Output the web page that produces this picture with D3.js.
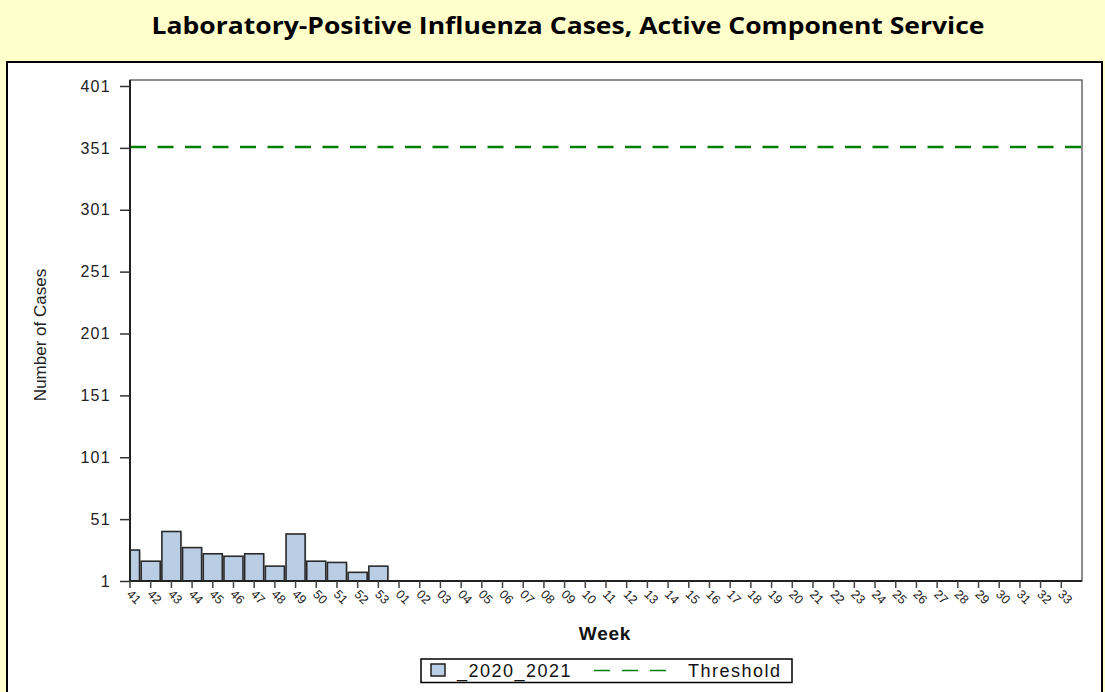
<!DOCTYPE html>
<html>
<head>
<meta charset="utf-8">
<script src="https://cdn.jsdelivr.net/npm/d3@7"></script>
<style>
html,body{margin:0;padding:0;background:#FFFFCC;}
svg{display:block;}
</style>
</head>
<body>
<svg id="chart" width="1105" height="692"></svg>
<script>
const weeks = ["41","42","43","44","45","46","47","48","49","50","51","52","53",
  "01","02","03","04","05","06","07","08","09","10","11","12","13","14","15","16",
  "17","18","19","20","21","22","23","24","25","26","27","28","29","30","31","32","33"];
const cases2020_2021 = [26,17,41,28,23,21,23,13,39,17,16,8,13];
const threshold = 351;
const yTicks = [1,51,101,151,201,251,301,351,401];
const titleText = "Laboratory-Positive Influenza Cases, Active Component Service";
const seriesName = "_2020_2021";
const thresholdName = "Threshold";

(function(){
const svg = d3.select("#chart");
const W = 1105, H = 692;
svg.append("rect").attr("width", W).attr("height", H).attr("fill", "#FFFFCC");

svg.append("text").attr("x", 568).attr("y", 34)
  .attr("text-anchor", "middle")
  .attr("font-family", "'Open Sans', Lato, sans-serif")
  .attr("font-weight", "bold").attr("font-size", 24)
  .attr("textLength", 833).attr("lengthAdjust", "spacingAndGlyphs")
  .attr("fill", "#000").text(titleText);

// white frame
svg.append("rect").attr("x", 7).attr("y", 62).attr("width", 1095).attr("height", 660)
  .attr("fill", "#fff").attr("stroke", "#000").attr("stroke-width", 2);

const pL = 130, pR = 1082, pT = 80, pB = 581;
const n = weeks.length;
const step = (pR - pL) / n;
const x = d3.scaleBand().domain(weeks)
  .range([pL - step / 2, pL - step / 2 + n * step])
  .paddingInner(0.08).paddingOuter(0.04);
const y = d3.scaleLinear().domain([1, 401]).range([pB, 86]);

svg.append("defs").append("clipPath").attr("id", "plotclip")
  .append("rect").attr("x", pL).attr("y", pT).attr("width", pR - pL).attr("height", pB - pT);

// plot frame
svg.append("rect").attr("x", pL).attr("y", pT).attr("width", pR - pL).attr("height", pB - pT)
  .attr("fill", "#fff").attr("stroke", "#444").attr("stroke-width", 1.2);

// bars
const barData = cases2020_2021.map((v, i) => ({week: weeks[i], v}));
const gBars = svg.append("g").attr("clip-path", "url(#plotclip)");
gBars.selectAll("rect.shadow").data(barData).enter().append("rect")
  .attr("class", "shadow")
  .attr("x", d => x(d.week) + 1.5).attr("y", d => y(d.v) + 1.5)
  .attr("width", x.bandwidth()).attr("height", d => y(1) - y(d.v))
  .attr("fill", "#c8c8c8").attr("opacity", 0.6);
gBars.selectAll("rect.bar").data(barData).enter().append("rect")
  .attr("class", "bar")
  .attr("x", d => x(d.week)).attr("y", d => y(d.v))
  .attr("width", x.bandwidth()).attr("height", d => y(1) - y(d.v))
  .attr("fill", "#B9CDE5").attr("stroke", "#2a2a2a").attr("stroke-width", 1.6);

// threshold
svg.append("line").attr("x1", pL).attr("x2", pR)
  .attr("y1", y(threshold) - 1).attr("y2", y(threshold) - 1)
  .attr("stroke", "#008000").attr("stroke-width", 2.5)
  .attr("stroke-dasharray", "16,11.5");

// y axis
const yAxis = d3.axisLeft(y).tickValues(yTicks).tickSize(10).tickPadding(9);
const gy = svg.append("g").attr("transform", `translate(${pL},0)`).call(yAxis);
gy.select(".domain").attr("stroke", "#222").attr("stroke-width", 2)
  .attr("d", `M0,${pB}V${pT}`);
gy.selectAll(".tick line").attr("stroke", "#333").attr("stroke-width", 1.5);
gy.selectAll(".tick text").attr("font-family", "'Liberation Sans', Arial, sans-serif")
  .attr("font-size", 16).attr("letter-spacing", 1.3).attr("fill", "#222");

// x axis
const xAxis = d3.axisBottom(x).tickSize(7).tickPadding(4);
const gx = svg.append("g").attr("transform", `translate(0,${pB})`).call(xAxis);
gx.select(".domain").attr("stroke", "#222").attr("stroke-width", 2)
  .attr("d", `M${pL},0H${pR}`);
gx.selectAll(".tick line").attr("stroke", "#444").attr("stroke-width", 1.5);
gx.selectAll(".tick text")
  .attr("font-family", "'Liberation Sans', Arial, sans-serif").attr("font-size", 12.5)
  .attr("fill", "#222")
  .attr("text-anchor", "start")
  .attr("dy", null).attr("y", 0).attr("x", 0)
  .attr("transform", "translate(-4,14) rotate(45)");

// axis labels
svg.append("text").attr("x", 605).attr("y", 640).attr("text-anchor", "middle")
  .attr("font-family", "'Liberation Sans', Arial, sans-serif").attr("font-weight", "bold")
  .attr("font-size", 19).attr("letter-spacing", 0.8).attr("fill", "#111").text("Week");
svg.append("text").attr("transform", "translate(46,335) rotate(-90)").attr("text-anchor", "middle")
  .attr("font-family", "'Liberation Sans Narrow', 'Liberation Sans', Arial, sans-serif")
  .attr("font-size", 17).attr("fill", "#222").text("Number of Cases");

// legend
const lg = svg.append("g");
lg.append("rect").attr("x", 421).attr("y", 659).attr("width", 371).attr("height", 23.5)
  .attr("fill", "#fff").attr("stroke", "#000").attr("stroke-width", 1.5);
lg.append("rect").attr("x", 431).attr("y", 664).attr("width", 14).attr("height", 12)
  .attr("fill", "#B9CDE5").attr("stroke", "#2a2a2a").attr("stroke-width", 1.6);
lg.append("text").attr("x", 457).attr("y", 677)
  .attr("font-family", "'Liberation Sans', Arial, sans-serif").attr("font-size", 18)
  .attr("letter-spacing", 1.5).attr("fill", "#111").text(seriesName);
lg.append("line").attr("x1", 594).attr("x2", 666).attr("y1", 670.5).attr("y2", 670.5)
  .attr("stroke", "#008000").attr("stroke-width", 1.5).attr("stroke-dasharray", "16,12");
lg.append("text").attr("x", 688).attr("y", 677)
  .attr("font-family", "'Liberation Sans', Arial, sans-serif").attr("font-size", 18)
  .attr("letter-spacing", 1.5).attr("fill", "#111").text(thresholdName);
})();
</script>
</body>
</html>
